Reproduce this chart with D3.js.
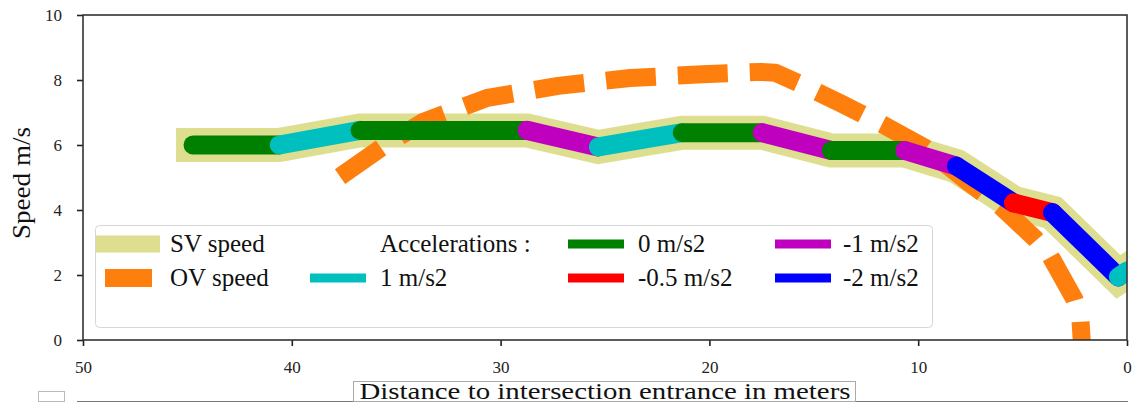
<!DOCTYPE html>
<html>
<head>
<meta charset="utf-8">
<script src="https://cdn.jsdelivr.net/npm/d3@7"></script>
<style>
  body { margin: 0; background: #fff; }
</style>
</head>
<body>
<div id="chart"></div>
<script>
// subject vehicle speed profile (distance to entrance in m, speed in m/s)
const svX = [44.73, 40.6, 36.73, 28.73, 25.32, 21.3, 17.47, 14.16, 10.64, 8.17, 5.44, 3.57, 0.41, 0.0];
const svY = [6.0, 6.0, 6.45, 6.45, 5.94, 6.38, 6.38, 5.83, 5.83, 5.35, 4.22, 3.92, 1.94, 2.12];
// acceleration applied between point i and i+1
const segAccel = [0, 1, 0, -1, 1, 0, -1, 0, -1, -2, -0.5, -2, 1];

// other vehicle speed profile
const ovX = [37.69, 35.72, 33.71, 30.64, 27.24, 23.79, 20.34, 17.56, 16.84, 15.64, 13.73, 11.67, 9.66, 7.74, 6.06, 4.39, 3.67, 2.52, 2.23, 2.14];
const ovY = [5.03, 5.91, 6.71, 7.45, 7.82, 8.06, 8.18, 8.25, 8.22, 7.88, 7.29, 6.62, 5.91, 4.92, 4.12, 3.11, 2.58, 1.26, 0.62, -0.3];

const accelValues = [1, 0, -0.5, -1, -2];
const accelLabels = ["1 m/s2", "0 m/s2", "-0.5 m/s2", "-1 m/s2", "-2 m/s2"];
const accelColors = ["#00bfbf", "#008000", "#ff0000", "#bf00bf", "#0000ff"];

const xTicks = [50, 40, 30, 20, 10, 0];
const yTicks = [0, 2, 4, 6, 8, 10];

const W = 1137, H = 409;
const mLeft = 83, mRight = 1127, mTop = 15, mBottom = 340;
const FONT = '"Liberation Serif", "Times New Roman", serif';

const svg = d3.select("#chart").append("svg")
    .attr("width", W)
    .attr("height", H);

const x = d3.scaleLinear().domain([50, 0]).range([mLeft, mRight]);
const y = d3.scaleLinear().domain([0, 10]).range([mBottom, mTop]);
const accelColor = d3.scaleOrdinal().domain(accelValues).range(accelColors);

svg.append("clipPath").attr("id", "plot")
    .append("rect")
    .attr("x", mLeft).attr("y", mTop)
    .attr("width", mRight - mLeft).attr("height", mBottom - mTop);

const plot = svg.append("g").attr("clip-path", "url(#plot)");

const line = d3.line().x(d => x(d[0])).y(d => y(d[1]));
const svPts = svX.map((v, i) => [v, svY[i]]);
const ovPts = ovX.map((v, i) => [v, ovY[i]]);

// SV band
plot.append("path")
    .attr("d", line(svPts))
    .attr("fill", "none")
    .attr("stroke", "#bcbd22")
    .attr("stroke-opacity", 0.5)
    .attr("stroke-width", 34)
    .attr("stroke-linecap", "square")
    .attr("stroke-linejoin", "miter");

// OV dashed
plot.append("path")
    .attr("d", line(ovPts))
    .attr("fill", "none")
    .attr("stroke", "#ff7f0e")
    .attr("stroke-width", 18)
    .attr("stroke-dasharray", "50,22")
    .attr("stroke-linejoin", "round");

// acceleration segments
for(let i = 0; i < segAccel.length; i++)
{
    plot.append("path")
        .attr("d", line([svPts[i], svPts[i + 1]]))
        .attr("fill", "none")
        .attr("stroke", accelColor(segAccel[i]))
        .attr("stroke-width", 19)
        .attr("stroke-linecap", "round");
}

// axes
const xAxis = svg.append("g")
    .attr("transform", `translate(0,${mBottom})`)
    .call(d3.axisBottom(x).tickValues(xTicks).tickSize(6).tickPadding(15).tickFormat(d3.format("d")));
const yAxis = svg.append("g")
    .attr("transform", `translate(${mLeft},0)`)
    .call(d3.axisLeft(y).tickValues(yTicks).tickSize(6).tickPadding(15).tickFormat(d3.format("d")));

for(const ax of [xAxis, yAxis])
{
    ax.select(".domain").remove();
    ax.selectAll(".tick line").attr("stroke", "#222").attr("stroke-width", 1.6);
    ax.selectAll(".tick text")
        .style("font-family", FONT)
        .style("font-size", "17px")
        .attr("fill", "#222");
}

svg.append("rect")
    .attr("x", mLeft).attr("y", mTop)
    .attr("width", mRight - mLeft).attr("height", mBottom - mTop)
    .attr("fill", "none")
    .attr("stroke", "#333")
    .attr("stroke-width", 1.6);

const txt = (sel, size = 25) => sel.style("font-family", FONT).style("font-size", size + "px").attr("fill", "#111");

// axis titles
svg.append("text")
    .attr("transform", "translate(30,183) rotate(-90)")
    .attr("text-anchor", "middle")
    .attr("textLength", 112)
    .attr("lengthAdjust", "spacingAndGlyphs")
    .call(txt)
    .text("Speed m/s");

svg.append("rect")
    .attr("x", 353.5).attr("y", 381.5).attr("width", 502).attr("height", 20)
    .attr("fill", "none").attr("stroke", "#aaa").attr("stroke-width", 1);
svg.append("text")
    .attr("x", 605).attr("y", 399)
    .attr("text-anchor", "middle")
    .attr("textLength", 491)
    .attr("lengthAdjust", "spacingAndGlyphs")
    .call(txt, 23)
    .text("Distance to intersection entrance in meters");
svg.append("line").attr("x1", 77).attr("x2", 353).attr("y1", 401.5).attr("y2", 401.5)
    .attr("stroke", "#777").attr("stroke-width", 1);
svg.append("line").attr("x1", 856).attr("x2", 1128).attr("y1", 401.5).attr("y2", 401.5)
    .attr("stroke", "#777").attr("stroke-width", 1);
svg.append("rect")
    .attr("x", 38.5).attr("y", 391.5).attr("width", 26).attr("height", 10)
    .attr("fill", "none").attr("stroke", "#bbb").attr("stroke-width", 1);

// legend
const legend = svg.append("g");
legend.append("rect")
    .attr("x", 95.5).attr("y", 225.5).attr("width", 837).attr("height", 102)
    .attr("rx", 4)
    .attr("fill", "#fff").attr("fill-opacity", 0.8)
    .attr("stroke", "#d6d6d6").attr("stroke-width", 1);

const row1 = 244, row2 = 278;
legend.append("line")
    .attr("x1", 96).attr("x2", 160).attr("y1", row1).attr("y2", row1)
    .attr("stroke", "#bcbd22").attr("stroke-opacity", 0.5).attr("stroke-width", 17);
legend.append("line")
    .attr("x1", 105).attr("x2", 162).attr("y1", row2).attr("y2", row2)
    .attr("stroke", "#ff7f0e").attr("stroke-width", 18).attr("stroke-dasharray", "47,22");
legend.append("text").attr("x", 170).attr("y", row1 + 8).call(txt).text("SV speed");
legend.append("text").attr("x", 170).attr("y", row2 + 8).call(txt).text("OV speed");
legend.append("text").attr("x", 380).attr("y", row1 + 8).call(txt).text("Accelerations :");

// accel entries: column / row positions
const handleX = [310, 568, 568, 775, 775];
const textX = [380, 638, 638, 843, 843];
const rowY = [row2, row1, row2, row1, row2];
accelValues.forEach((a, i) => {
    legend.append("line")
        .attr("x1", handleX[i]).attr("x2", handleX[i] + 56)
        .attr("y1", rowY[i]).attr("y2", rowY[i])
        .attr("stroke", accelColor(a)).attr("stroke-width", 9);
    legend.append("text")
        .attr("x", textX[i]).attr("y", rowY[i] + 8)
        .call(txt)
        .text(accelLabels[i]);
});
</script>
</body>
</html>
